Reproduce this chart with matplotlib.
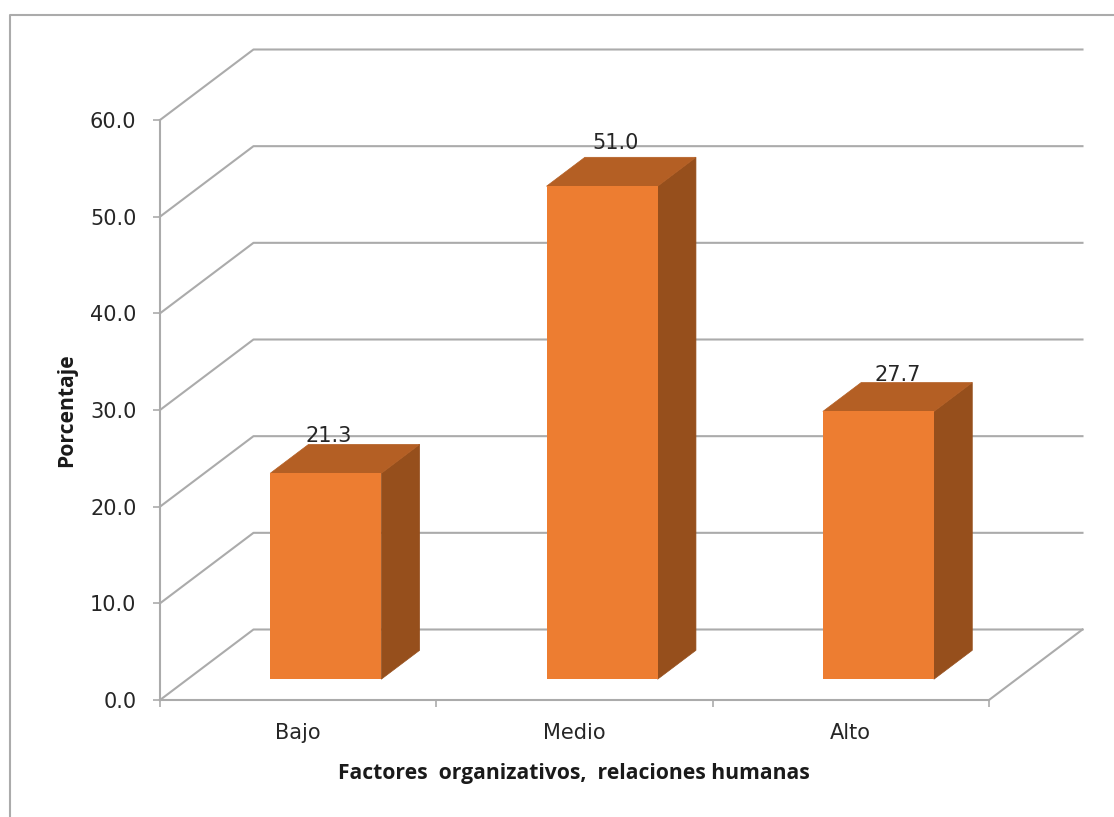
import matplotlib
matplotlib.use('Agg')
import matplotlib.pyplot as plt
from matplotlib.lines import Line2D

categories = ['Bajo', 'Medio', 'Alto']
values = [21.3, 51.0, 27.7]
yticks = [0, 10, 20, 30, 40, 50, 60]

# fake 3D box: how far the back wall sits from the front, in data units
depth_x = 93.5 / 276.4
depth_y = 70.5 / 9.667
bar_width = 0.402
bar_front = 0.295
bar_back = 0.705

grey = '#ABABAB'
txt = '#262626'
fs = 15

W, H = 1114, 817
fig = plt.figure(figsize=(W / 100, H / 100), dpi=100)
ax = fig.add_axes([160 / W, (H - 700) / H, 829 / W, 580 / H])
ax.set_xlim(0, 3)
ax.set_ylim(0, 60)


def proj(x, y, d):
    # shift a point towards the back wall by the fraction d of the depth
    return x + d * depth_x, y + d * depth_y


# walls and floor
for v in yticks:
    x0, y0 = proj(0, v, 0)
    x1, y1 = proj(0, v, 1)
    x2, y2 = proj(3, v, 1)
    ax.plot([x0, x1, x2], [y0, y1, y2], color=grey, lw=1.5, clip_on=False, zorder=1)
xa, ya = proj(3, 0, 1)
ax.plot([3, xa], [0, ya], color=grey, lw=1.5, clip_on=False, zorder=1)

# bars
for i, val in enumerate(values):
    left = i + 0.5 - bar_width / 2
    right = i + 0.5 + bar_width / 2

    front = [proj(left, 0, bar_front), proj(right, 0, bar_front),
             proj(right, val, bar_front), proj(left, val, bar_front)]
    side = [proj(right, 0, bar_front), proj(right, 0, bar_back),
            proj(right, val, bar_back), proj(right, val, bar_front)]
    top = [proj(left, val, bar_front), proj(right, val, bar_front),
           proj(right, val, bar_back), proj(left, val, bar_back)]

    # thin edges close the seams between the faces
    ax.fill(*zip(*side), color='#964F1C', lw=0.5, clip_on=False, zorder=3)
    ax.fill(*zip(*top), color='#B45F24', lw=0.5, clip_on=False, zorder=3)
    ax.fill(*zip(*front), color='#ED7D31', lw=0, clip_on=False, zorder=4)

# value labels sit a bit off the centre of the bar, offsets in pixels
label_dx = [3, 13, 19]
label_dy = [8, 14, 8]
for i, val in enumerate(values):
    lx = proj(i + 0.5, val, bar_front)[0]
    ly = proj(i + 0.5, val, bar_back)[1]
    ax.annotate(f'{val:.1f}', (lx, ly), xytext=(label_dx[i] * 0.72, label_dy[i] * 0.72),
                textcoords='offset points', ha='center', va='center', fontsize=fs, color=txt,
                zorder=5, annotation_clip=False)

# axes
for s in ['top', 'right']:
    ax.spines[s].set_visible(False)
for s in ['left', 'bottom']:
    ax.spines[s].set_color(grey)
    ax.spines[s].set_linewidth(1.5)
    ax.spines[s].set_zorder(2)

ax.set_yticks(yticks)
ax.set_yticklabels([f'{v:.1f}' for v in yticks], fontsize=fs, color=txt)
ax.set_xticks([0, 1, 2, 3])
ax.set_xticklabels([])
ax.tick_params(axis='both', color=grey, width=1.2, length=5)
ax.tick_params(axis='y', pad=12)
ax.patch.set_alpha(0)

for i, c in enumerate(categories):
    fig.text((160 + (i + 0.5) * 276.33) / W, (H - 733) / H, c, ha='center', va='center',
             fontsize=fs, color=txt)

fig.text(574 / W, (H - 774) / H, 'Factores  organizativos,  relaciones humanas', ha='center', va='center',
         fontsize=15.2, fontweight='bold', family='Open Sans', color='#1a1a1a')
fig.text(67 / W, (H - 410) / H, 'Porcentaje', rotation=90, ha='center', va='center',
         fontsize=15.2, fontweight='bold', family='Open Sans', color='#1a1a1a')

# chart area border, cut off at the right and the bottom
fig.add_artist(Line2D([9.5 / W, 9.5 / W, 1], [0, (H - 14.7) / H, (H - 14.7) / H], color=grey, lw=1.5))

fig.savefig('out.png', dpi=100)
